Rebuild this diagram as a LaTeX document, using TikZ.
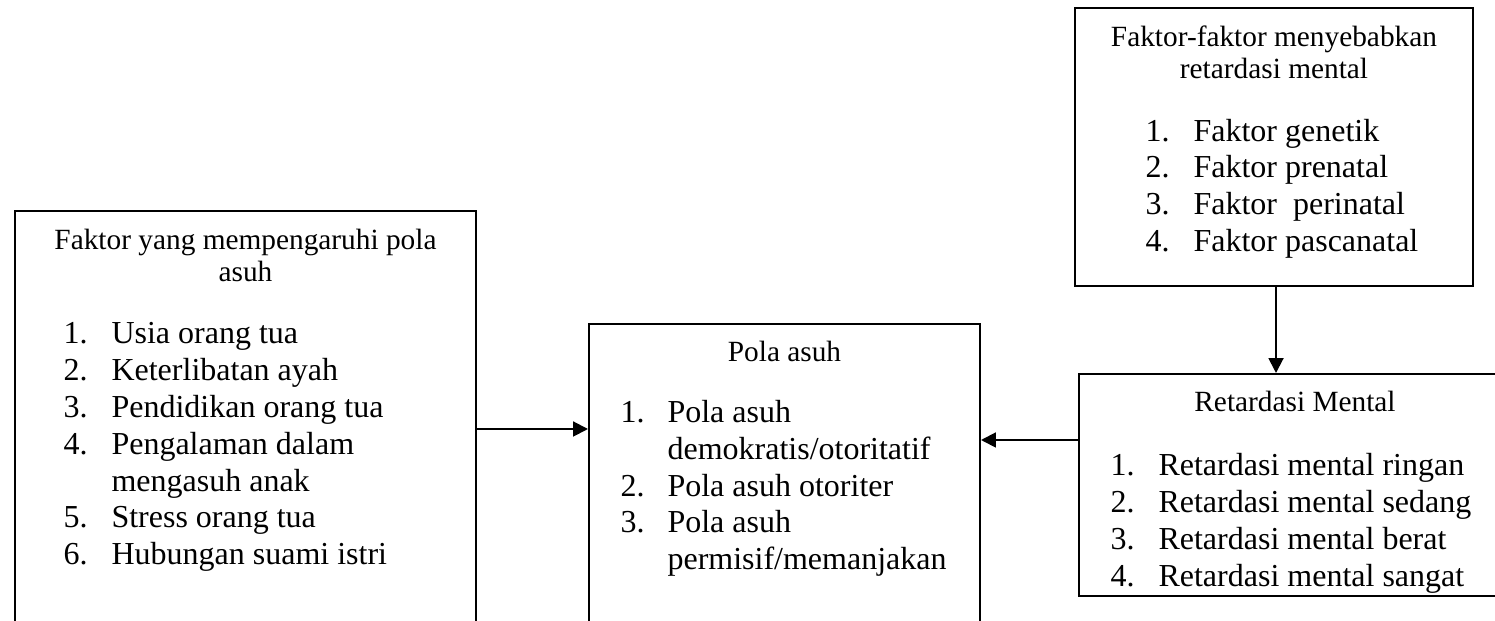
\documentclass[tikz,border=0pt]{standalone}
\usepackage{fontspec}
\setmainfont{Liberation Serif}
\usetikzlibrary{arrows.meta,fit}
\tikzset{
  box/.style={draw, line width=0.75pt, rectangle, inner sep=0pt},
  ttl/.style={font=\fontsize{11}{12}\selectfont, inner sep=0pt, anchor=base},
  itm/.style={font=\fontsize{12}{14}\selectfont, inner sep=0pt, anchor=base west},
  arr/.style={line width=0.75pt, -{Triangle[length=5.6pt,width=5.6pt]}}
}
\begin{document}
\begin{tikzpicture}[x=0.375pt,y=-0.375pt]
\useasboundingbox (0,0) rectangle (1495,621);
\clip (0,0) rectangle (1495,621);
% boxes
\node[box, fit={(15,211) (476,700)}] (L) {};
\node[box, fit={(589,324) (980,700)}] (M) {};
\node[box, fit={(1079,374) (1515,596)}] (R) {};
\node[box, fit={(1075,8) (1473,286)}] (T) {};
% left box text
\node[ttl] (l0) at (245.5,250) {Faktor yang mempengaruhi pola};
\node[ttl] (l0b) at (245.5,282) {asuh};
\node[itm] (l1n) at (63,344) {1.}; \node[itm] (l1) at (111,344) {Usia orang tua};
\node[itm] (l2n) at (63,381) {2.}; \node[itm] (l2) at (111,381) {Keterlibatan ayah};
\node[itm] (l3n) at (63,418) {3.}; \node[itm] (l3) at (111,418) {Pendidikan orang tua};
\node[itm] (l4n) at (63,455) {4.}; \node[itm] (l4) at (111,455) {Pengalaman dalam};
\node[itm] (l4b) at (111,492) {mengasuh anak};
\node[itm] (l5n) at (63,528) {5.}; \node[itm] (l5) at (111,528) {Stress orang tua};
\node[itm] (l6n) at (63,565) {6.}; \node[itm] (l6) at (111,565) {Hubungan suami istri};
% middle box text
\node[ttl] (m0) at (784.5,362) {Pola asuh};
\node[itm] (m1n) at (620,423) {1.}; \node[itm] (m1) at (667,423) {Pola asuh};
\node[itm] (m1b) at (667,460) {demokratis/otoritatif};
\node[itm] (m2n) at (620,497) {2.}; \node[itm] (m2) at (667,497) {Pola asuh otoriter};
\node[itm] (m3n) at (620,533) {3.}; \node[itm] (m3) at (667,533) {Pola asuh};
\node[itm] (m3b) at (667,570) {permisif/memanjakan};
% top box text
\node[ttl] (t0) at (1274,47) {Faktor-faktor menyebabkan};
\node[ttl] (t0b) at (1274,79) {retardasi mental};
\node[itm] (t1n) at (1145,142) {1.}; \node[itm] (t1) at (1193,142) {Faktor genetik};
\node[itm] (t2n) at (1145,178) {2.}; \node[itm] (t2) at (1193,178) {Faktor prenatal};
\node[itm] (t3n) at (1145,215) {3.}; \node[itm] (t3) at (1193,215) {Faktor\ \ perinatal};
\node[itm] (t4n) at (1145,252) {4.}; \node[itm] (t4) at (1193,252) {Faktor pascanatal};
% right box text (clipped by its bottom border)
\begin{scope}
\clip (1079,374) rectangle (1515,593);
\node[ttl] (r0) at (1295,412) {Retardasi Mental};
\node[itm] (r1n) at (1110,476) {1.}; \node[itm] (r1) at (1158,476) {Retardasi mental ringan};
\node[itm] (r2n) at (1110,513) {2.}; \node[itm] (r2) at (1158,513) {Retardasi mental sedang};
\node[itm] (r3n) at (1110,550) {3.}; \node[itm] (r3) at (1158,550) {Retardasi mental berat};
\node[itm] (r4n) at (1110,587) {4.}; \node[itm] (r4) at (1158,587) {Retardasi mental sangat};
\end{scope}
% connectors
\draw[arr] (L.east |- 0,429) -- (M.west |- 0,429);
\draw[arr] (R.west |- 0,440) -- (M.east |- 0,440);
\draw[arr] (T.south -| 1276,0) -- (R.north -| 1276,0);
\end{tikzpicture}
\end{document}
